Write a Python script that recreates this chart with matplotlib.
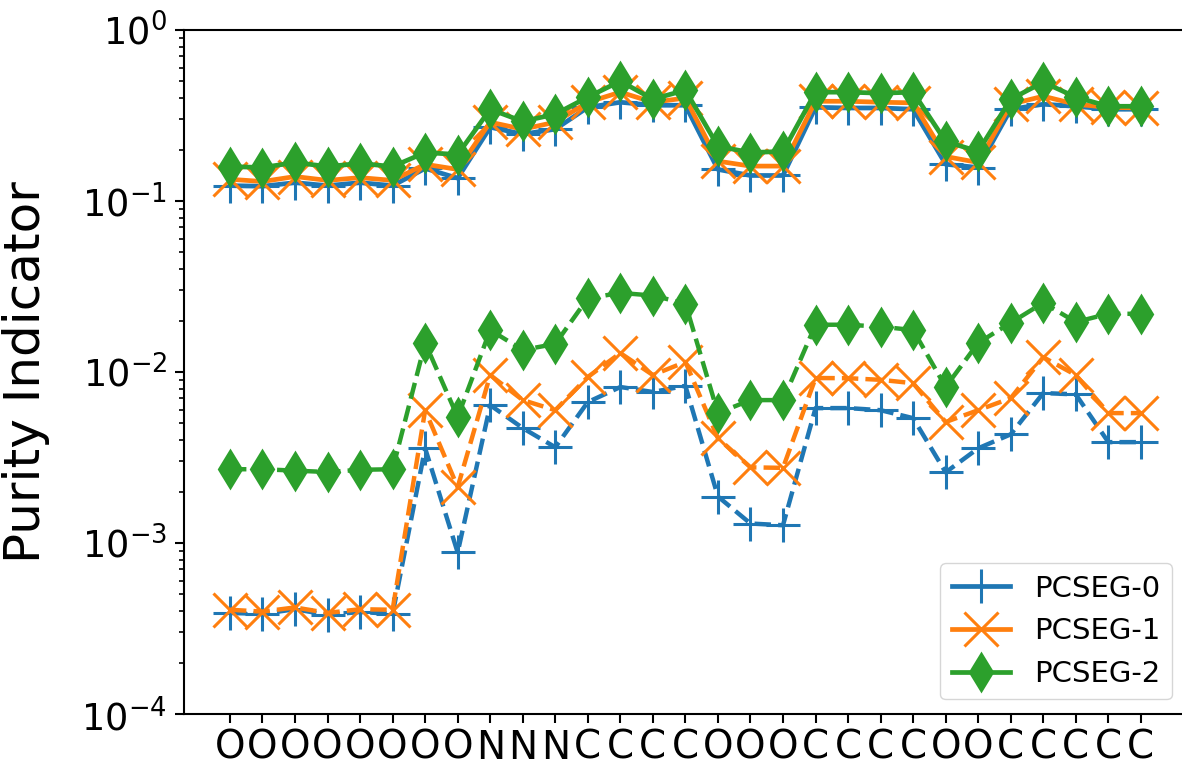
"""Purity indicator per segment for the three PCSEG variants (log scale)."""
import matplotlib
matplotlib.use("Agg")
from matplotlib import pyplot as plt

# x tick labels, one per position
labels = list("OOOOOOOONNNCCCCOOOCCCCOOCCCCC")

# upper (solid) series
pcseg0_hi = [0.123, 0.122, 0.128, 0.123, 0.128, 0.123, 0.155, 0.136, 0.270, 0.246,
             0.263, 0.353, 0.378, 0.363, 0.363, 0.153, 0.141, 0.141, 0.353, 0.350,
             0.350, 0.344, 0.164, 0.157, 0.344, 0.368, 0.358, 0.344, 0.344]
pcseg1_hi = [0.134, 0.130, 0.139, 0.132, 0.137, 0.132, 0.164, 0.153, 0.289, 0.263,
             0.289, 0.378, 0.433, 0.378, 0.400, 0.171, 0.160, 0.160, 0.383, 0.383,
             0.378, 0.375, 0.182, 0.168, 0.368, 0.410, 0.368, 0.353, 0.350]
pcseg2_hi = [0.159, 0.157, 0.168, 0.159, 0.166, 0.159, 0.192, 0.187, 0.344, 0.292,
             0.322, 0.405, 0.502, 0.394, 0.445, 0.209, 0.192, 0.195, 0.433, 0.433,
             0.427, 0.433, 0.223, 0.195, 0.394, 0.495, 0.405, 0.358, 0.358]

# lower (dashed) series
pcseg0_lo = [3.9e-4, 3.85e-4, 4.1e-4, 3.8e-4, 3.95e-4, 3.85e-4, 0.00358, 0.00088, 0.0064, 0.0047,
             0.00363, 0.00667, 0.00817, 0.00764, 0.0083, 0.00187, 0.0013, 0.00127, 0.00615, 0.00615,
             0.00598, 0.00537, 0.00259, 0.00358, 0.00432, 0.00753, 0.0074, 0.00389, 0.00389]
pcseg1_lo = [4.07e-4, 3.97e-4, 4.2e-4, 3.9e-4, 4.1e-4, 4.07e-4, 0.00598, 0.00212, 0.0096, 0.00685,
             0.00598, 0.00935, 0.0129, 0.0096, 0.01145, 0.0041, 0.00277, 0.00275, 0.00922, 0.0092,
             0.0090, 0.0086, 0.0051, 0.00598, 0.00703, 0.0122, 0.0096, 0.00575, 0.00575]
pcseg2_lo = [0.0027, 0.0027, 0.00265, 0.0026, 0.00268, 0.0027, 0.0148, 0.00545, 0.0176, 0.01345,
             0.0146, 0.027, 0.029, 0.028, 0.0251, 0.00575, 0.00685, 0.00685, 0.0189, 0.0189,
             0.0184, 0.0176, 0.00817, 0.0148, 0.0194, 0.0254, 0.0196, 0.0219, 0.0219]

series = [
    ("PCSEG-0", pcseg0_hi, pcseg0_lo, "C0", "+", 24.5),
    ("PCSEG-1", pcseg1_hi, pcseg1_lo, "C1", "x", 24.5),
    ("PCSEG-2", pcseg2_hi, pcseg2_lo, "C2", "d", 18.5),
]


def main():
    fig = plt.figure(figsize=(11.82, 7.69), dpi=100)
    ax = fig.add_axes([184.4 / 1182, 55 / 769, 1002 / 1182, 684 / 769])
    xs = list(range(len(labels)))

    for name, hi, lo, color, marker, ms in series:
        ax.plot(xs, hi, color=color, marker=marker, markersize=ms, markeredgewidth=2.2,
                linewidth=3.4, label=name)
        ax.plot(xs, lo, color=color, marker=marker, markersize=ms, markeredgewidth=2.2,
                linewidth=3.2, linestyle="--")

    ax.set_yscale("log")
    ax.set_ylim(1e-4, 1)
    ax.set_xlim(-1.4, len(labels) - 1 + 1.4)
    ax.set_xticks(xs)
    ax.set_xticklabels(labels)

    ax.tick_params(axis="y", which="major", labelsize=26.5, length=6.5, width=1.5, pad=6)
    ax.tick_params(axis="x", which="major", labelsize=28, length=6.5, width=1.5, pad=4)
    ax.tick_params(axis="y", which="minor", length=3.6, width=1.2)
    for side in ("left", "bottom", "top", "right"):
        ax.spines[side].set_linewidth(1.5)

    ax.set_ylabel("Purity Indicator", fontsize=36)
    ax.yaxis.set_label_coords(-0.134, 0.5)
    ax.legend(loc="lower right", fontsize=21)

    fig.savefig("out.png", dpi=100)


if __name__ == "__main__":
    main()
